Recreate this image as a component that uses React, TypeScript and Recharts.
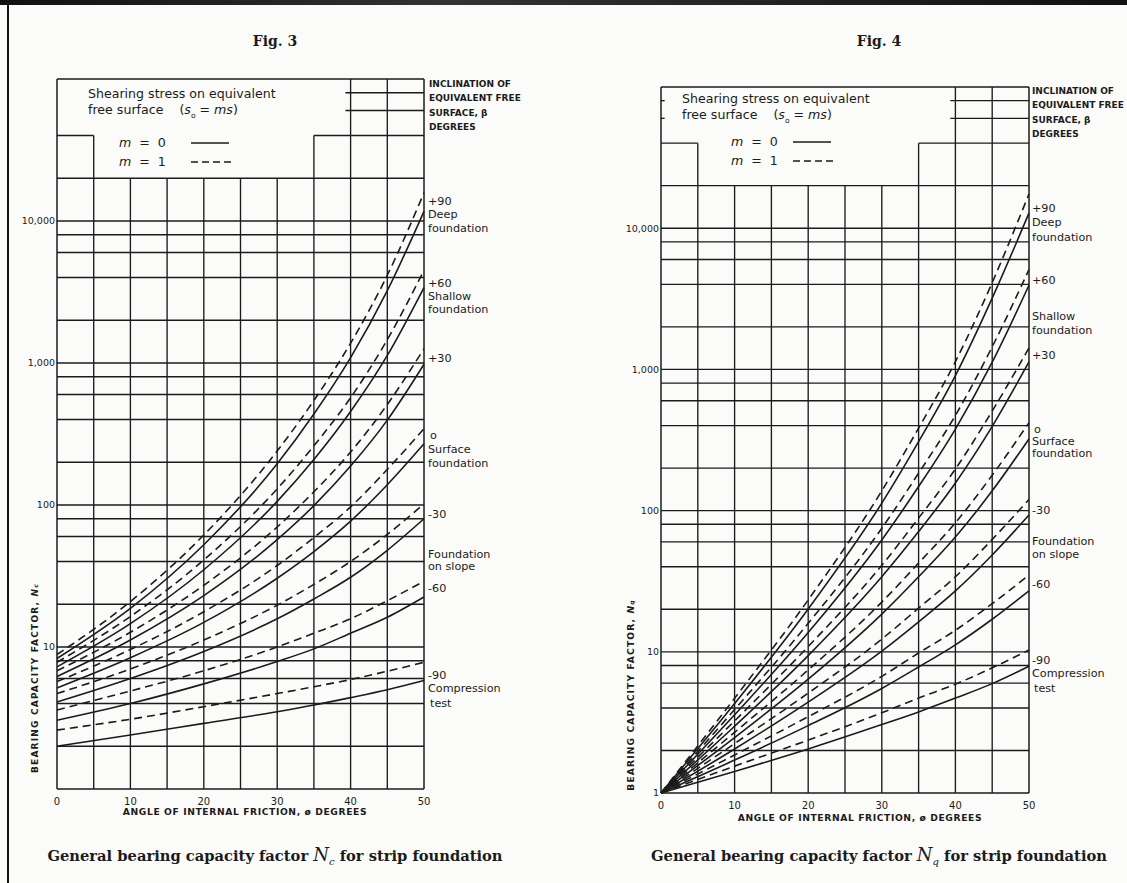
import React from 'react';
import { LineChart, Line, XAxis, YAxis, ReferenceLine, Legend } from 'recharts';

// angle of internal friction, degrees
const phi = [0, 10, 20, 30, 35, 40, 45, 50];

// Fig. 3 - Nc, m = 0 (solid), beta = +90 ... -90
const ncM0p90 = [8.3, 18.7, 52.5, 195, 437, 1090, 3230, 11700];
const ncM0p60 = [7.25, 14.6, 35, 106, 209, 455, 1130, 3400];
const ncM0p30 = [6.2, 11.2, 23, 57, 99, 188, 396, 980];
const ncM0z = [5.15, 8.4, 14.9, 30.5, 47, 77, 139, 270];
const ncM0m30 = [4.1, 6.0, 9.3, 15.8, 21.8, 31, 48, 80];
const ncM0m60 = [3.05, 4.0, 5.5, 7.9, 9.7, 12.5, 16.2, 22.5];
const ncM0m90 = [2.0, 2.4, 2.9, 3.5, 3.9, 4.4, 5.0, 5.8];

// Fig. 3 - Nc, m = 1 (dashed)
const ncM1p90 = [8.85, 20.9, 61.5, 240, 545, 1380, 4150, 15800];
const ncM1p60 = [7.8, 16.4, 41, 130, 261, 570, 1460, 4500];
const ncM1p30 = [6.8, 12.7, 27.2, 70, 124, 236, 510, 1260];
const ncM1z = [5.7, 9.6, 17.7, 37.5, 59, 97, 178, 345];
const ncM1m30 = [4.7, 7.0, 11.2, 19.7, 27.6, 40, 62, 102];
const ncM1m60 = [3.6, 4.9, 6.8, 10, 12.5, 15.8, 21.2, 29];
const ncM1m90 = [2.6, 3.1, 3.8, 4.7, 5.25, 5.9, 6.75, 7.8];

// Fig. 4 - Nq, m = 0 (solid)
const nqM0p90 = [1, 4.3, 20.1, 113, 308, 905, 3200, 12800];
const nqM0p60 = [1, 3.58, 13.7, 62, 148, 378, 1125, 3950];
const nqM0p30 = [1, 2.97, 9.4, 34, 71, 157, 395, 1130];
const nqM0z = [1, 2.47, 6.4, 18.5, 34, 65, 138, 322];
const nqM0m30 = [1, 2.05, 4.4, 10.1, 16.3, 27, 48.5, 93];
const nqM0m60 = [1, 1.71, 3.0, 5.5, 7.8, 11.2, 17, 27];
const nqM0m90 = [1, 1.42, 2.05, 3.05, 3.75, 4.7, 5.95, 7.9];

// Fig. 4 - Nq, m = 1 (dashed)
const nqM1p90 = [1, 4.69, 23.3, 138, 384, 1135, 4120, 17500];
const nqM1p60 = [1, 3.9, 15.9, 75, 184, 472, 1445, 5100];
const nqM1p30 = [1, 3.24, 10.9, 41, 88.5, 197, 507, 1420];
const nqM1z = [1, 2.69, 7.44, 22.5, 42.5, 82, 178, 420];
const nqM1m30 = [1, 2.24, 5.1, 12.3, 20.4, 34, 62.5, 120];
const nqM1m60 = [1, 1.86, 3.47, 6.7, 9.8, 14.2, 21.9, 35];
const nqM1m90 = [1, 1.55, 2.37, 3.7, 4.7, 5.9, 7.7, 10.3];

const xTicks = [0, 10, 20, 30, 40, 50];
const ncTicks = [10, 100, 1000, 10000];
const nqTicks = [1, 10, 100, 1000, 10000];
const gridY = [2, 4, 6, 8, 10, 20, 40, 60, 80, 100, 200, 400, 600, 800, 1000, 2000, 4000, 6000, 8000, 10000, 20000];

const INK = '#1b1b1b';
const LETTER = '"DejaVu Sans", "Liberation Sans", sans-serif';
const SERIF = '"DejaVu Serif", "Liberation Serif", serif';

type Row = Record<string, number>;

const buildRows = (solid: number[][], dashed: number[][]): Row[] =>
  phi.map((p, i) => {
    const row: Row = { phi: p };
    solid.forEach((s, k) => (row[`m0_${k}`] = s[i]));
    dashed.forEach((s, k) => (row[`m1_${k}`] = s[i]));
    return row;
  });

const ncRows = buildRows(
  [ncM0p90, ncM0p60, ncM0p30, ncM0z, ncM0m30, ncM0m60, ncM0m90],
  [ncM1p90, ncM1p60, ncM1p30, ncM1z, ncM1m30, ncM1m60, ncM1m90]
);
const nqRows = buildRows(
  [nqM0p90, nqM0p60, nqM0p30, nqM0z, nqM0m30, nqM0m60, nqM0m90],
  [nqM1p90, nqM1p60, nqM1p30, nqM1z, nqM1m30, nqM1m60, nqM1m90]
);

const lineKeys = [0, 1, 2, 3, 4, 5, 6];

interface LegendLook {
  fs: number;
  gap: number;
  mLeft: number;
  sampleLeft: number;
}

interface ChartProps {
  rows: Row[];
  yTicks: number[];
  left: number;
  width: number;
  top: number;
  right: number;
  yAxisWidth: number;
  xAxisHeight: number;
  legendLeft: number;
  legendTop: number;
  legend: LegendLook;
  tickSize: number;
  stubs?: boolean;
}

const LegendBox = ({ fs, gap, mLeft, sampleLeft }: LegendLook) => {
  const lh = Math.round(fs * 1.3);
  const row = (label: string, dash?: string) => (
    <div style={{ height: lh + 3, display: 'flex', alignItems: 'center', position: 'relative' }}>
      <span style={{ position: 'absolute', left: mLeft }}>
        <i>m</i>&nbsp;&nbsp;=&nbsp;&nbsp;{label}
      </span>
      <svg width={42} height={6} style={{ position: 'absolute', left: sampleLeft }}>
        <line x1={0} y1={3} x2={dash ? 42 : 38} y2={3} stroke={INK} strokeWidth={1.5} strokeDasharray={dash} />
      </svg>
    </div>
  );
  return (
    <div style={{ fontFamily: LETTER, fontSize: fs, color: INK, lineHeight: `${lh}px`, textAlign: 'left' }}>
      <div>Shearing stress on equivalent</div>
      <div>
        free surface&nbsp;&nbsp;&nbsp;&nbsp;(<i>s</i>
        <sub style={{ fontSize: fs * 0.6, lineHeight: 0 }}>o</sub> = <i>ms</i>)
      </div>
      <div style={{ height: gap }} />
      {row('0')}
      {row('1', '7 4')}
    </div>
  );
};

const BearingChart = (p: ChartProps) => {
  const gridStroke = { stroke: INK, strokeWidth: 1.35 };
  return (
    <div style={{ position: 'absolute', left: p.left, top: 0 }}>
      <LineChart
        width={p.width}
        height={883}
        data={p.rows}
        margin={{ top: p.top, right: p.right, bottom: 0, left: 0 }}
      >
        <XAxis
          dataKey="phi"
          type="number"
          domain={[0, 50]}
          ticks={xTicks}
          axisLine={false}
          tickLine={false}
          height={p.xAxisHeight}
          tickMargin={3}
          tick={{ fontSize: p.tickSize, fill: INK, fontFamily: LETTER }}
        />
        <YAxis
          type="number"
          scale="log"
          domain={[1, 100000]}
          ticks={p.yTicks}
          width={p.yAxisWidth}
          axisLine={false}
          tickLine={false}
          tickSize={0}
          tickMargin={2}
          tickFormatter={(v: number) => v.toLocaleString('en-US')}
          tick={{ fontSize: p.tickSize - 0.5, fill: INK, fontFamily: LETTER }}
        />

        {gridY.map((v) => (
          <ReferenceLine key={`h${v}`} y={v} {...gridStroke} />
        ))}
        {/* partial lines around the legend box */}
        <ReferenceLine segment={[{ x: 0, y: 40000 }, { x: 5, y: 40000 }]} {...gridStroke} />
        <ReferenceLine segment={[{ x: 35, y: 40000 }, { x: 50, y: 40000 }]} {...gridStroke} />
        <ReferenceLine segment={[{ x: 39.3, y: 60000 }, { x: 50, y: 60000 }]} {...gridStroke} />
        <ReferenceLine segment={[{ x: 39.3, y: 80000 }, { x: 50, y: 80000 }]} {...gridStroke} />
        {p.stubs && (
          <ReferenceLine segment={[{ x: 0, y: 80000 }, { x: 0.5, y: 80000 }]} {...gridStroke} />
        )}
        {p.stubs && (
          <ReferenceLine segment={[{ x: 0, y: 60000 }, { x: 0.5, y: 60000 }]} {...gridStroke} />
        )}
        {[10, 15, 20, 25, 30].map((x) => (
          <ReferenceLine key={`v${x}`} segment={[{ x, y: 1 }, { x, y: 20000 }]} {...gridStroke} />
        ))}
        {[5, 35].map((x) => (
          <ReferenceLine key={`v${x}`} segment={[{ x, y: 1 }, { x, y: 40000 }]} {...gridStroke} />
        ))}
        {[40, 45].map((x) => (
          <ReferenceLine key={`v${x}`} segment={[{ x, y: 1 }, { x, y: 100000 }]} {...gridStroke} />
        ))}
        {/* frame */}
        <ReferenceLine y={100000} stroke={INK} strokeWidth={1.5} />
        <ReferenceLine y={1} stroke={INK} strokeWidth={1.5} />
        <ReferenceLine x={0} stroke={INK} strokeWidth={1.5} />
        <ReferenceLine x={50} stroke={INK} strokeWidth={1.5} />

        {lineKeys.map((k) => (
          <Line
            key={`m0_${k}`}
            dataKey={`m0_${k}`}
            type="monotone"
            stroke={INK}
            strokeWidth={1.6}
            dot={false}
            isAnimationActive={false}
          />
        ))}
        {lineKeys.map((k) => (
          <Line
            key={`m1_${k}`}
            dataKey={`m1_${k}`}
            type="monotone"
            stroke={INK}
            strokeWidth={1.6}
            strokeDasharray="8 5"
            dot={false}
            isAnimationActive={false}
          />
        ))}

        <Legend
          layout="vertical"
          verticalAlign="middle"
          align="center"
          content={() => <LegendBox {...p.legend} />}
          wrapperStyle={{ left: p.legendLeft, top: p.legendTop, width: 240 }}
        />
      </LineChart>
    </div>
  );
};

type Note = { t: string; y: number };

const leftNotes: Note[] = [
  { t: '+90', y: 202 },
  { t: 'Deep', y: 215 },
  { t: 'foundation', y: 229 },
  { t: '+60', y: 284 },
  { t: 'Shallow', y: 297 },
  { t: 'foundation', y: 310 },
  { t: '+30', y: 359 },
  { t: 'o', y: 436 },
  { t: 'Surface', y: 450 },
  { t: 'foundation', y: 464 },
  { t: '-30', y: 515 },
  { t: 'Foundation', y: 555 },
  { t: 'on slope', y: 567 },
  { t: '-60', y: 589 },
  { t: '-90', y: 676 },
  { t: 'Compression', y: 689 },
  { t: 'test', y: 704 },
];

const rightNotes: Note[] = [
  { t: '+90', y: 209 },
  { t: 'Deep', y: 223 },
  { t: 'foundation', y: 238 },
  { t: '+60', y: 281 },
  { t: 'Shallow', y: 317 },
  { t: 'foundation', y: 331 },
  { t: '+30', y: 356 },
  { t: 'o', y: 430 },
  { t: 'Surface', y: 442 },
  { t: 'foundation', y: 454 },
  { t: '-30', y: 511 },
  { t: 'Foundation', y: 542 },
  { t: 'on slope', y: 555 },
  { t: '-60', y: 585 },
  { t: '-90', y: 661 },
  { t: 'Compression', y: 674 },
  { t: 'test', y: 689 },
];

const inclination = ['INCLINATION OF', 'EQUIVALENT FREE', 'SURFACE, \u03b2', 'DEGREES'];

const Overlay = () => (
  <svg
    width={1127}
    height={883}
    style={{ position: 'absolute', left: 0, top: 0, pointerEvents: 'none' }}
  >
    <g fontFamily={SERIF} fontWeight="bold" fill={INK}>
      <text x={275} y={46} fontSize={14} textAnchor="middle">Fig. 3</text>
      <text x={879} y={46} fontSize={14} textAnchor="middle">Fig. 4</text>
      <text x={275} y={861} fontSize={14.7} textAnchor="middle">
        General bearing capacity factor{' '}
        <tspan fontStyle="italic" fontWeight="normal" fontSize={18}>N</tspan>
        <tspan fontStyle="italic" fontWeight="normal" fontSize={10} dy={4}>c</tspan>
        <tspan dy={-4}> for strip foundation</tspan>
      </text>
      <text x={879} y={861} fontSize={14.7} textAnchor="middle">
        General bearing capacity factor{' '}
        <tspan fontStyle="italic" fontWeight="normal" fontSize={18}>N</tspan>
        <tspan fontStyle="italic" fontWeight="normal" fontSize={10} dy={4}>q</tspan>
        <tspan dy={-4}> for strip foundation</tspan>
      </text>
    </g>
    <g fontFamily={LETTER} fill={INK} fontSize={11.2}>
      {leftNotes.map((n, i) => (
        <text key={`l${i}`} x={n.t === 'o' || n.t === 'test' ? 430 : 428} y={n.y} dominantBaseline="middle">
          {n.t}
        </text>
      ))}
      {rightNotes.map((n, i) => (
        <text key={`r${i}`} x={n.t === 'o' || n.t === 'test' ? 1034 : 1032} y={n.y} dominantBaseline="middle">
          {n.t}
        </text>
      ))}
    </g>
    <g fontFamily={LETTER} fill={INK} fontWeight="bold" fontSize={9}>
      {inclination.map((t, i) => (
        <text key={`il${i}`} x={429} y={84 + i * 14.5} dominantBaseline="middle">{t}</text>
      ))}
      {inclination.map((t, i) => (
        <text key={`ir${i}`} x={1032} y={91 + i * 14.5} dominantBaseline="middle">{t}</text>
      ))}
      <text x={245} y={815} fontSize={9.2} textAnchor="middle" letterSpacing={0.6}>
        ANGLE OF INTERNAL FRICTION, {'\u00f8'} DEGREES
      </text>
      <text x={860} y={821} fontSize={9.2} textAnchor="middle" letterSpacing={0.6}>
        ANGLE OF INTERNAL FRICTION, {'\u00f8'} DEGREES
      </text>
      <text
        x={38}
        y={678}
        fontSize={9}
        textAnchor="middle"
        letterSpacing={1.2}
        transform="rotate(-90 38 678)"
      >
        BEARING CAPACITY FACTOR, <tspan fontStyle="italic">N</tspan>
        <tspan fontSize={6} fontStyle="italic">c</tspan>
      </text>
      <text
        x={634}
        y={695}
        fontSize={9.2}
        textAnchor="middle"
        letterSpacing={1.1}
        transform="rotate(-90 634 695)"
      >
        BEARING CAPACITY FACTOR, <tspan fontStyle="italic">N</tspan>
        <tspan fontSize={6} fontStyle="italic">q</tspan>
      </text>
    </g>
  </svg>
);

const App = () => (
  <div
    style={{
      position: 'absolute',
      left: 0,
      top: 0,
      width: 1127,
      height: 883,
      background: '#fbfbfa',
      overflow: 'hidden',
    }}
  >
    <div
      style={{
        position: 'absolute',
        left: 0,
        top: 0,
        width: 1127,
        height: 5,
        background: 'linear-gradient(90deg, #111 0%, #333 40%, #111 100%)',
      }}
    />
    <div style={{ position: 'absolute', left: 7, top: 0, width: 2, height: 883, background: '#111' }} />
    <BearingChart
      rows={ncRows}
      yTicks={ncTicks}
      left={0}
      width={560}
      top={79}
      right={136}
      yAxisWidth={57}
      xAxisHeight={94}
      legendLeft={88}
      legendTop={86}
      legend={{ fs: 12.6, gap: 15, mLeft: 31, sampleLeft: 103 }}
      tickSize={10}
    />
    <BearingChart
      rows={nqRows}
      yTicks={nqTicks}
      left={560}
      width={567}
      top={87}
      right={98}
      yAxisWidth={101}
      xAxisHeight={90}
      legendLeft={122}
      legendTop={91}
      legend={{ fs: 12.6, gap: 9, mLeft: 49, sampleLeft: 111 }}
      tickSize={10}
      stubs
    />
    <Overlay />
  </div>
);

export default App;
